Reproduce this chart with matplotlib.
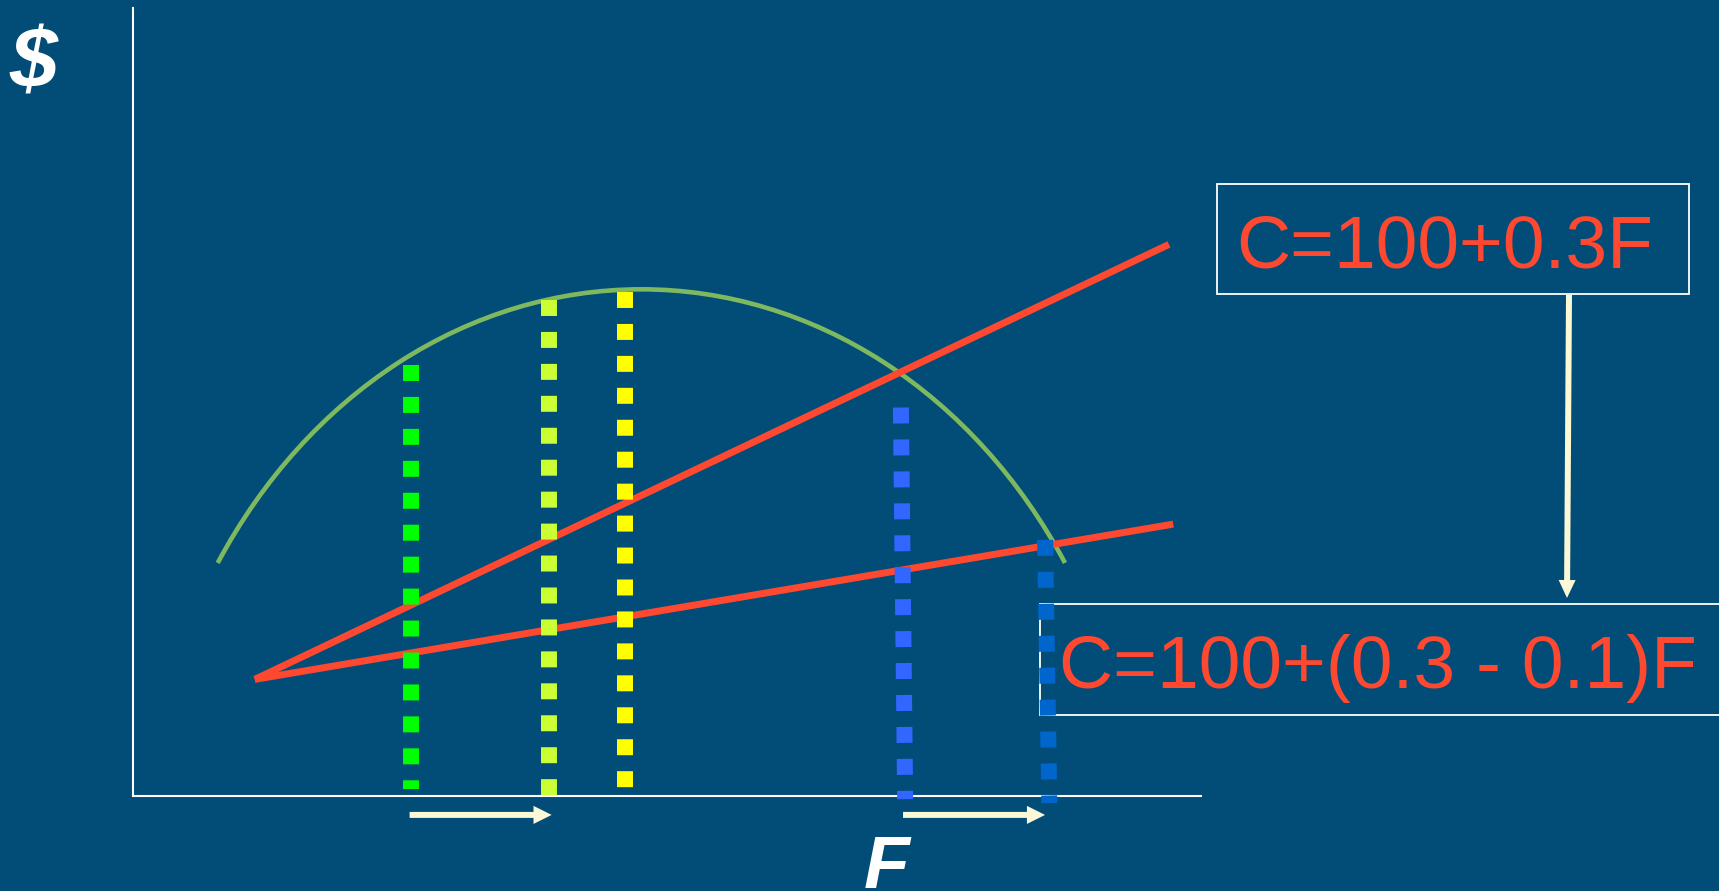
import numpy as np
import matplotlib
matplotlib.use("Agg")
import matplotlib.pyplot as plt
from matplotlib.patches import Arc, Rectangle, FancyArrow

# --- chart values (F on x, $ on y, both 0..100) ---
# cost lines: start point shared, two different slopes
cost_f = [[11.4, 97.0], [11.4, 97.4]]
cost_c = [[14.8, 70.0], [14.8, 34.5]]

# revenue curve (elliptical arc, as drawn in the slide)
rev_center = (47.6, -9.0)
rev_width = 93.3
rev_height = 146.6
rev_theta = (44.2, 135.8)

# dotted verticals: F at top / bottom, $ at top / bottom
dot_f_top = [26.0, 38.95, 46.1, 71.9, 85.4]
dot_f_bot = [26.0, 38.95, 46.1, 72.3, 85.8]
dot_top = [54.7, 62.9, 64.0, 49.3, 32.5]
dot_bot = [0.9, 0.0, 1.0, -0.4, -0.9]
dot_colors = ["#00ff00", "#ccff33", "#ffff00", "#3366ff", "#0066cc"]

# shift arrows under the F axis
shift_from = [25.9, 72.1]
shift_to = [39.2, 85.4]

label_top = "C=100+0.3F"
label_bottom = "C=100+(0.3 - 0.1)F"

BG = "#024d78"
RED = "#ff4830"
GREEN = "#7fb95f"
CREAM = "#faf8d6"
W, H = 1719, 891

plt.rcParams["font.family"] = ["Liberation Sans", "DejaVu Sans"]

fig = plt.figure(figsize=(W / 100, H / 100), dpi=100, facecolor=BG)

# overlay in pixel coordinates for the slide furniture
lay = fig.add_axes([0, 0, 1, 1], zorder=0)
lay.set_xlim(0, W)
lay.set_ylim(H, 0)
lay.set_facecolor(BG)
lay.axis("off")

lay.add_patch(Rectangle((1217, 184), 472, 110, facecolor=BG, edgecolor="white", lw=1.3))
lay.add_patch(Rectangle((1040, 604), 720, 111, facecolor=BG, edgecolor="white", lw=1.3))
lay.text(1236, 268, label_top, fontsize=54, color=RED, ha="left", va="baseline")
lay.text(1059, 688, label_bottom, fontsize=54, color=RED, ha="left", va="baseline")
lay.add_patch(FancyArrow(1569, 295, -2, 303, width=6, head_width=17, head_length=18,
                         length_includes_head=True, color=CREAM, lw=0))

lay.text(9, 88, "$", fontsize=62, color="white", fontweight="bold",
         fontstyle="italic", ha="left", va="baseline")
lay.text(864, 888, "F", fontsize=54, color="white", fontweight="bold",
         fontstyle="italic", ha="left", va="baseline")

# main axes
ax = fig.add_axes([133 / W, 95 / H, 1068 / W, 788 / H], zorder=1)
ax.patch.set_alpha(0)
ax.set_xlim(0, 100)
ax.set_ylim(0, 100)
ax.set_xticks([])
ax.set_yticks([])
for side in ["top", "right"]:
    ax.spines[side].set_visible(False)
for side in ["left", "bottom"]:
    ax.spines[side].set_color("white")
    ax.spines[side].set_linewidth(1.5)

ax.add_patch(Arc(rev_center, rev_width, rev_height, theta1=rev_theta[0], theta2=rev_theta[1],
                 color=GREEN, lw=3.3, zorder=1))

for fs, cs in zip(cost_f, cost_c):
    ax.plot(fs, cs, color=RED, lw=5.0, solid_capstyle="butt", zorder=2)

for i in range(len(dot_f_top)):
    ax.plot([dot_f_top[i], dot_f_bot[i]], [dot_top[i], dot_bot[i]], color=dot_colors[i],
            lw=11.5, linestyle=(0, (1, 1)), dash_capstyle="butt", clip_on=False, zorder=3)

for a, b in zip(shift_from, shift_to):
    ax.arrow(a, -2.4, b - a, 0, width=0.76, head_width=2.3, head_length=1.7,
             length_includes_head=True, color=CREAM, lw=0, clip_on=False)

fig.savefig("out.png", dpi=100, facecolor=BG)
